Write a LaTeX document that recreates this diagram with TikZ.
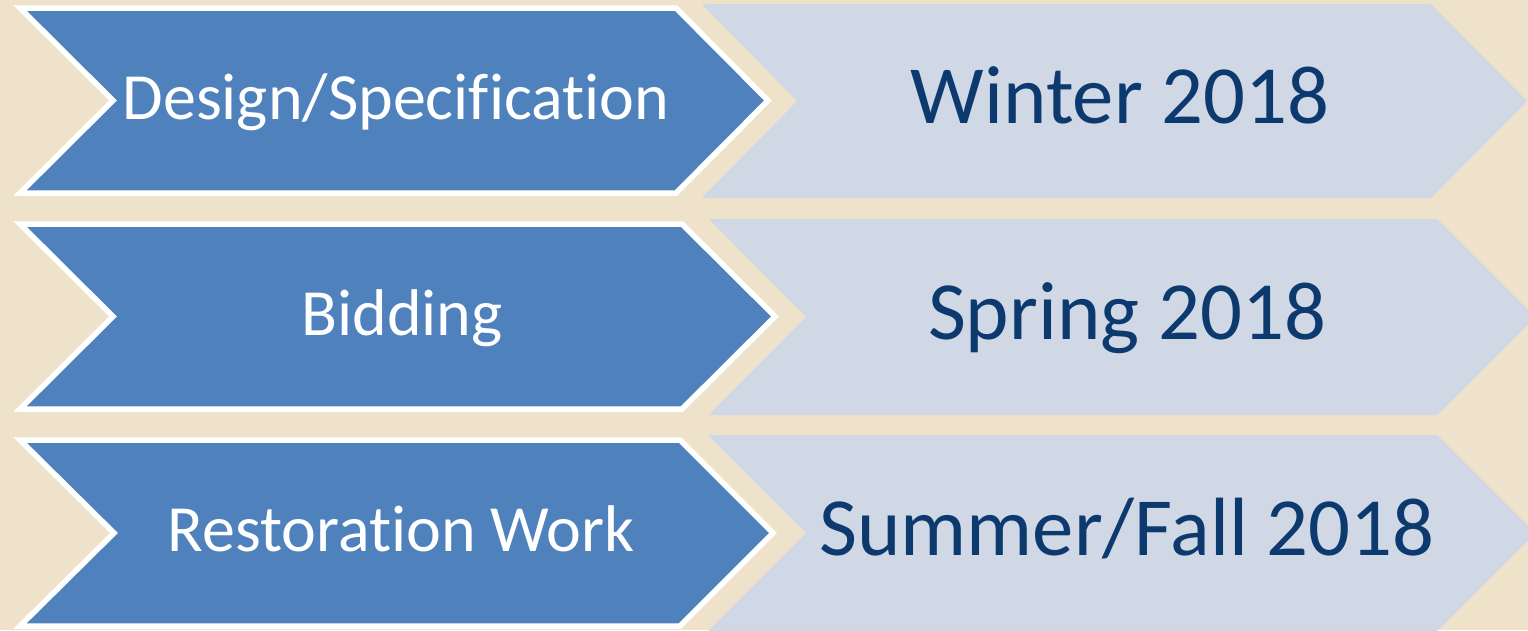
\documentclass[tikz,border=0pt]{standalone}
\usepackage{fontspec}
\setmainfont{Carlito}[Ligatures={NoCommon}]
\definecolor{bgc}{HTML}{EEE2CB}
\definecolor{bluefill}{HTML}{4F81BD}
\definecolor{lightfill}{HTML}{D1D8E5}
\definecolor{darktext}{HTML}{0C3A6F}
\tikzset{
  bluechev/.style={fill=bluefill, draw=white, line width=5.5pt, line join=miter},
  lightchev/.style={fill=lightfill, draw=none},
  bluetxt/.style={text=white, inner sep=0pt, anchor=base, font=\fontsize{66}{72}\selectfont},
  lighttxt/.style={text=darktext, inner sep=0pt, anchor=base, font=\fontsize{82.7}{90}\selectfont}
}
\begin{document}
\begin{tikzpicture}[x=1pt,y=-1pt]
\fill[bgc] (0,0) rectangle (1528,630);
\useasboundingbox (0,0) rectangle (1528,630);
% light chevrons
\path[lightchev] (702,4) -- (1431,4) -- (1527,101) -- (1431,198) -- (702,198) -- (797,101) -- cycle;
\path[lightchev] (709,219) -- (1437,219) -- (1535,317) -- (1437,415) -- (709,415) -- (806,317) -- cycle;
\path[lightchev] (708,435) -- (1437,435) -- (1535,533) -- (1437,631) -- (708,631) -- (806,533) -- cycle;
% blue chevrons
\path[bluechev] (20,8) -- (676,8) -- (768,100.5) -- (676,193) -- (20,193) -- (113,100.5) -- cycle;
\path[bluechev] (20,224) -- (682,224) -- (775,316.5) -- (682,409) -- (20,409) -- (113,316.5) -- cycle;
\path[bluechev] (20,440) -- (680,440) -- (773,533) -- (680,626) -- (20,626) -- (114,533) -- cycle;
% texts
\node[bluetxt] (b1) at (396,119) {Design/Specification};
\node[bluetxt] (b2) at (402,335) {Bidding};
\node[bluetxt] (b3) at (401,551) {Restoration Work};
\node[lighttxt] (l1) at (1120,123) {Winter 2018};
\node[lighttxt] (l2) at (1127,339) {Spring 2018};
\node[lighttxt] (l3) at (1127,555) {Summer/Fall 2018};
\end{tikzpicture}
\end{document}
